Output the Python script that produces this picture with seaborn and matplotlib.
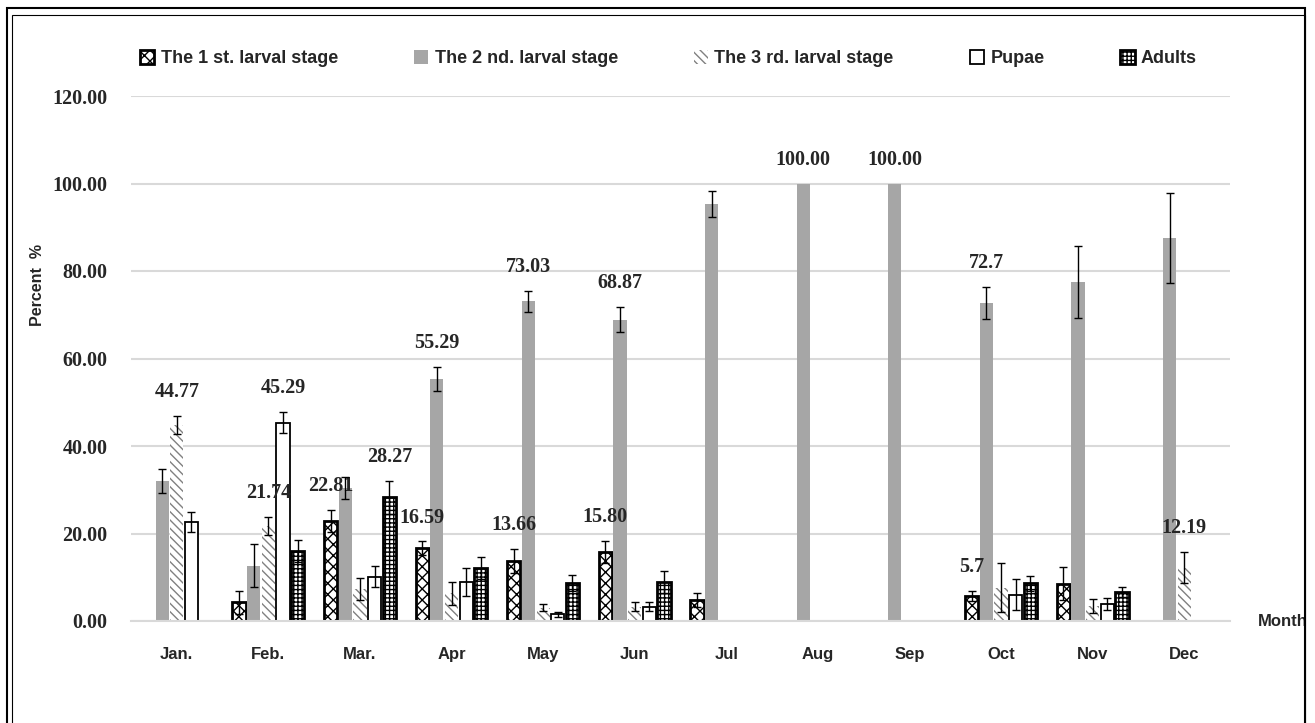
import numpy as np
import pandas as pd
import seaborn as sns
import matplotlib.pyplot as plt
from matplotlib.patches import Patch, Rectangle

months = ["Jan.", "Feb.", "Mar.", "Apr", "May", "Jun", "Jul", "Aug", "Sep", "Oct", "Nov", "Dec"]
stages = ["The 1 st. larval stage", "The 2 nd. larval stage", "The 3 rd. larval stage", "Pupae", "Adults"]

first_stage = [0, 4.3, 22.81, 16.59, 13.66, 15.80, 4.8, 0, 0, 5.7, 8.5, 0]
first_err = [0, 2.6, 2.5, 1.6, 2.8, 2.5, 1.6, 0, 0, 1.2, 3.8, 0]
second_stage = [32.0, 12.6, 30.4, 55.29, 73.03, 68.87, 95.3, 100.00, 100.00, 72.7, 77.5, 87.5]
second_err = [2.8, 4.9, 2.6, 2.7, 2.5, 2.9, 3.0, 0, 0, 3.6, 8.2, 10.3]
third_stage = [44.77, 21.74, 7.4, 6.3, 3.0, 3.3, 0, 0, 0, 7.6, 3.4, 12.19]
third_err = [2.1, 2.0, 2.5, 2.6, 0.8, 1.0, 0, 0, 0, 5.6, 1.6, 3.6]
pupae = [22.6, 45.29, 10.1, 8.9, 1.5, 3.3, 0, 0, 0, 6.0, 3.9, 0]
pupae_err = [2.3, 2.4, 2.4, 3.2, 0.5, 1.0, 0, 0, 0, 3.5, 1.3, 0]
adults = [0, 16.0, 28.27, 12.1, 8.7, 8.9, 0, 0, 0, 8.6, 6.6, 0]
adults_err = [0, 2.5, 3.7, 2.5, 1.8, 2.5, 0, 0, 0, 1.7, 1.2, 0]

# bars that carry a value label: (month, stage index, text)
value_labels = [("Jan.", 2, "44.77"), ("Feb.", 3, "45.29"), ("Feb.", 2, "21.74"),
                ("Mar.", 0, "22.81"), ("Mar.", 4, "28.27"), ("Apr", 1, "55.29"),
                ("Apr", 0, "16.59"), ("May", 1, "73.03"), ("May", 0, "13.66"),
                ("Jun", 1, "68.87"), ("Jun", 0, "15.80"), ("Aug", 1, "100.00"),
                ("Sep", 1, "100.00"), ("Oct", 1, "72.7"), ("Oct", 0, "5.7"),
                ("Dec", 2, "12.19")]

values = [first_stage, second_stage, third_stage, pupae, adults]
errors = [first_err, second_err, third_err, pupae_err, adults_err]

df = pd.concat([pd.DataFrame({"Month": months, "Stage": s, "Percent": v})
                for s, v in zip(stages, values)], ignore_index=True)

styles = [
    dict(facecolor="white", edgecolor="black", hatch="xxx", linewidth=2.0),
    dict(facecolor="#a6a6a6", edgecolor="#a6a6a6", hatch=None, linewidth=0),
    dict(facecolor="white", edgecolor="#808080", hatch="\\\\\\\\", linewidth=0),
    dict(facecolor="white", edgecolor="black", hatch=None, linewidth=1.3),
    dict(facecolor="white", edgecolor="black", hatch="++++", linewidth=2.0),
]

sns.set_style("white")
plt.rcParams["hatch.linewidth"] = 1.0
serif = ["Liberation Serif", "DejaVu Serif"]
sans = ["Liberation Sans", "DejaVu Sans"]
plt.rcParams["font.family"] = sans

fig = plt.figure(figsize=(13.15, 7.23), dpi=100)
ax = fig.add_axes([131 / 1315, 102 / 723, 1099 / 1315, 525 / 723])

sns.barplot(data=df, x="Month", y="Percent", hue="Stage", order=months,
            hue_order=stages, errorbar=None, gap=0.1, legend=False, ax=ax)

bar_lookup = {}
for si, (container, style, errs) in enumerate(zip(ax.containers, styles, errors)):
    xs, ys, es = [], [], []
    for mi, (bar, e) in enumerate(zip(container, errs)):
        bar.set_facecolor(style["facecolor"])
        bar.set_edgecolor(style["edgecolor"])
        bar.set_linewidth(style["linewidth"])
        if style["hatch"]:
            bar.set_hatch(style["hatch"])
        if bar.get_height() == 0:
            bar.set_visible(False)
            continue
        cx = bar.get_x() + bar.get_width() / 2
        bar_lookup[(months[mi], si)] = (cx, bar.get_height(), e)
        if e > 0:
            xs.append(cx)
            ys.append(bar.get_height())
            es.append(e)
    ax.errorbar(xs, ys, yerr=es, fmt="none", ecolor="black", elinewidth=1,
                capsize=3, capthick=1, zorder=5)

for month, si, text in value_labels:
    cx, h, e = bar_lookup[(month, si)]
    ax.annotate(text, (cx, h + e), xytext=(0, 10), textcoords="offset points",
                ha="center", va="bottom", family=serif, weight="bold", fontsize=14.5)

ax.set_ylim(0, 120)
ax.set_xlim(-0.5, len(months) - 0.5)
ax.set_yticks(np.arange(0, 121, 20))
ax.set_yticklabels([f"{t:.2f}" for t in np.arange(0, 121, 20)], family=serif,
                   weight="bold", fontsize=14.5)
ax.set_xticks(range(len(months)))
ax.set_xticklabels(months, family=sans, weight="bold", fontsize=12)
ax.tick_params(axis="y", length=0, pad=17)
ax.tick_params(axis="x", length=0, pad=19)
ax.set_xlabel("")
ax.set_ylabel("Percent  %", family=sans, weight="bold", fontsize=11.5)
ax.yaxis.set_label_coords(-0.078, 0.64)
ax.yaxis.grid(True, color="#d9d9d9", linewidth=1.5)
ax.set_axisbelow(True)
for side in ["left", "top", "right"]:
    ax.spines[side].set_visible(False)
ax.spines["bottom"].set_color("#d9d9d9")
ax.spines["bottom"].set_linewidth(1.5)

handles = [Patch(facecolor=s["facecolor"], edgecolor=s["edgecolor"], hatch=s["hatch"],
                 linewidth=s["linewidth"]) for s in styles]
fig.legend(handles, stages, loc="upper left", bbox_to_anchor=(140 / 1315, 1 - 50 / 723),
           ncol=5, frameon=False, prop={"family": sans, "weight": "bold", "size": 13},
           handlelength=0.8, handleheight=0.8, handletextpad=0.35, columnspacing=4.2,
           borderaxespad=0, borderpad=0)

fig.text(1258 / 1315, 1 - 621 / 723, "Month", family=sans, weight="bold", fontsize=12,
         ha="left", va="center")

# white margin and double frame around the chart
fig.add_artist(Rectangle((1306 / 1315, 0), 9 / 1315, 1, transform=fig.transFigure,
                         facecolor="white", edgecolor="none", zorder=10))
fig.add_artist(Rectangle((7 / 1315, -0.02), 1298 / 1315, 1.02 - 8 / 723,
                         transform=fig.transFigure, fill=False, edgecolor="black",
                         linewidth=1.5, zorder=11))
fig.add_artist(Rectangle((12 / 1315, -0.02), 1293 / 1315, 1.02 - 15 / 723,
                         transform=fig.transFigure, fill=False, edgecolor="black",
                         linewidth=0.8, zorder=11))

fig.savefig("out.png", dpi=100)
